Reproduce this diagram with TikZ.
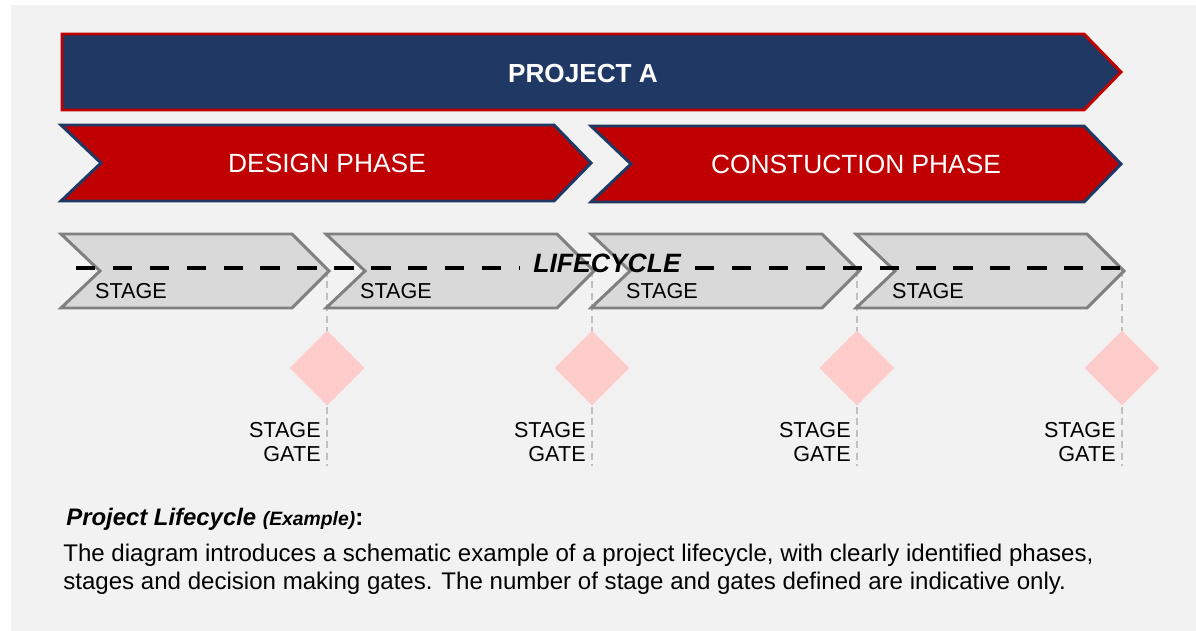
\documentclass[tikz,border=0pt]{standalone}
\usepackage{fontspec}
\setmainfont{Liberation Sans}
\usepackage{tikz}
\usetikzlibrary{shapes.geometric}
\definecolor{navy}{HTML}{203864}
\definecolor{darkred}{HTML}{C00000}
\definecolor{panelgray}{HTML}{F2F2F2}
\definecolor{stagegray}{HTML}{D9D9D9}
\definecolor{stageline}{HTML}{808080}
\definecolor{gatepink}{HTML}{FFCCCC}
\definecolor{gateline}{HTML}{BFBFBF}

\begin{document}
\begin{tikzpicture}[x=0.02cm, y=-0.02cm]
    \tikzset{projbox/.style = {fill=navy, draw=darkred, line width=1.7pt}}
    \tikzset{phasebox/.style = {fill=darkred, draw=navy, line width=1.7pt}}
    \tikzset{stagebox/.style = {fill=stagegray, draw=stageline, line width=1.7pt}}
    \tikzset{gatemark/.style = {shape=diamond, fill=gatepink, minimum width=1.5cm, minimum height=1.5cm, inner sep=0pt}}
    \tikzset{gatedash/.style = {draw=gateline, line width=1.2pt, dash pattern=on 4pt off 2.5pt}}
    \tikzset{lifedash/.style = {draw=black, line width=2.3pt, dash pattern=on 11pt off 10pt}}
    \tikzset{stagetext/.style = {anchor=west, font=\fontsize{12.3}{14}\selectfont}}
    \tikzset{gatetext/.style = {anchor=east, align=right, inner sep=0pt, font=\fontsize{12.3}{13.8}\selectfont}}

    % background
    \fill[white] (0,0) rectangle (1196,631);
    \fill[panelgray] (11,5) rectangle (1196,631);

    % project and phases
    \draw[projbox] (62,34) -- (1084,34) -- (1121,72) -- (1084,110) -- (62,110) -- cycle;
    \node[text=white, font=\fontsize{14.9}{18}\selectfont\bfseries] (proj) at (583,73) {PROJECT A};

    \draw[phasebox] (61,125) -- (554,125) -- (591,163) -- (554,201) -- (61,201) -- (101,163) -- cycle;
    \draw[phasebox] (591,126) -- (1084,126) -- (1121,164) -- (1084,202) -- (591,202) -- (631,164) -- cycle;
    \node[text=white, font=\fontsize{15}{18}\selectfont] (design) at (327,163) {DESIGN PHASE};
    \node[text=white, font=\fontsize{15}{18}\selectfont] (constr) at (856,164) {CONSTUCTION PHASE};

    % gate lines
    \coordinate (gt1) at (327,270);
    \coordinate (gb1) at (327,466);
    \coordinate (gt2) at (592,270);
    \coordinate (gb2) at (592,466);
    \coordinate (gt3) at (857,270);
    \coordinate (gb3) at (857,466);
    \coordinate (gt4) at (1122,270);
    \coordinate (gb4) at (1122,466);
    \draw[gatedash] (gt1) -- (gb1);
    \draw[gatedash] (gt2) -- (gb2);
    \draw[gatedash] (gt3) -- (gb3);
    \draw[gatedash] (gt4) -- (gb4);

    % stages
    \draw[stagebox] (61,234) -- (292,234) -- (329,271) -- (292,308) -- (61,308) -- (100,271) -- cycle;
    \draw[stagebox] (326,234) -- (557,234) -- (594,271) -- (557,308) -- (326,308) -- (365,271) -- cycle;
    \draw[stagebox] (591,234) -- (822,234) -- (859,271) -- (822,308) -- (591,308) -- (630,271) -- cycle;
    \draw[stagebox] (856,234) -- (1087,234) -- (1124,271) -- (1087,308) -- (856,308) -- (895,271) -- cycle;
    \node[stagetext] (st1) at (89,291) {STAGE};
    \node[stagetext] (st2) at (354,291) {STAGE};
    \node[stagetext] (st3) at (620,291) {STAGE};
    \node[stagetext] (st4) at (886,291) {STAGE};

    % lifecycle line
    \node[font=\fontsize{15.1}{17}\selectfont\bfseries\itshape, inner xsep=8pt] (lc) at (607,263) {LIFECYCLE};
    \coordinate (lstart) at (76,268);
    \coordinate (lend) at (1128,268);
    \draw[lifedash] (lstart) -- (lstart -| lc.west);
    \draw[lifedash] (lend -| lc.east) -- (lend);

    % gates
    \node[gatemark] (g1) at (327,368) {};
    \node[gatemark] (g2) at (592,368) {};
    \node[gatemark] (g3) at (857,368) {};
    \node[gatemark] (g4) at (1122,368) {};
    \node[gatetext] (gl1) at (321,442) {STAGE\\GATE};
    \node[gatetext] (gl2) at (586,442) {STAGE\\GATE};
    \node[gatetext] (gl3) at (851,442) {STAGE\\GATE};
    \node[gatetext] (gl4) at (1116,442) {STAGE\\GATE};

    % description
    \node[anchor=west, inner sep=0pt, font=\fontsize{13.6}{16}\selectfont\bfseries] (title) at (66,519)
        {\itshape Project Lifecycle {\fontsize{11}{13}\selectfont (Example)}\upshape:};
    \node[anchor=north west, align=left, inner sep=0pt, font=\fontsize{13.7}{15.9}\selectfont] (body) at (63,544)
        {The diagram introduces a schematic example of a project lifecycle, with clearly identified phases,\\
         stages and decision making gates. The number of stage and gates defined are indicative only.};
\end{tikzpicture}
\end{document}
